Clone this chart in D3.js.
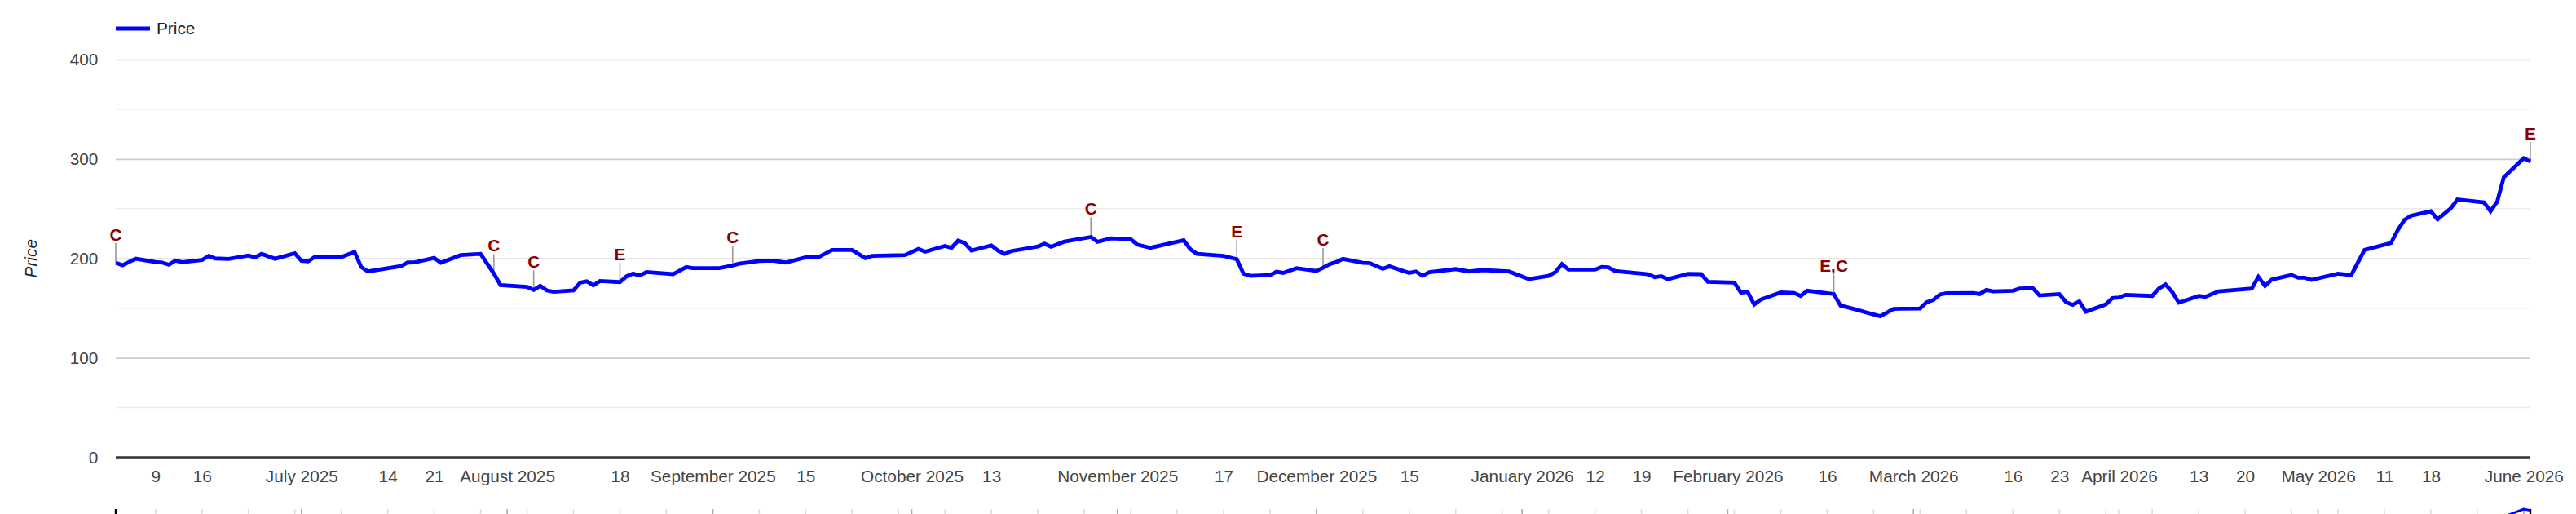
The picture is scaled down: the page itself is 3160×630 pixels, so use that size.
<!doctype html>
<html lang="en">
<head>
  <meta charset="utf-8">
  <title>Price</title>
  <script src="https://cdnjs.cloudflare.com/ajax/libs/d3/7.8.5/d3.min.js"></script>
  <style>
    body { margin: 0; background: #fff; }
    svg text { font-family: Arial, "Liberation Sans", sans-serif; }
  </style>
</head>
<body>
<div id="chart"></div>
<script>

// price series (trading days where the line bends)
var dates = [
  "2025-06-03","2025-06-04","2025-06-06","2025-06-09","2025-06-10","2025-06-11","2025-06-12","2025-06-13",
  "2025-06-16","2025-06-17","2025-06-18","2025-06-20","2025-06-23","2025-06-24","2025-06-25","2025-06-27",
  "2025-06-30","2025-07-01","2025-07-02","2025-07-03","2025-07-07","2025-07-09","2025-07-10","2025-07-11",
  "2025-07-16","2025-07-17","2025-07-18","2025-07-21","2025-07-22","2025-07-25","2025-07-28","2025-07-30",
  "2025-07-31","2025-08-04","2025-08-05","2025-08-06","2025-08-07","2025-08-08","2025-08-11","2025-08-12",
  "2025-08-13","2025-08-14","2025-08-15","2025-08-18","2025-08-19","2025-08-20","2025-08-21","2025-08-22",
  "2025-08-26","2025-08-28","2025-08-29","2025-09-02","2025-09-04","2025-09-05","2025-09-08","2025-09-10",
  "2025-09-12","2025-09-15","2025-09-17","2025-09-19","2025-09-22","2025-09-24","2025-09-25","2025-09-30",
  "2025-10-02","2025-10-03","2025-10-06","2025-10-07","2025-10-08","2025-10-09","2025-10-10","2025-10-13",
  "2025-10-14","2025-10-15","2025-10-16","2025-10-20","2025-10-21","2025-10-22","2025-10-24","2025-10-28",
  "2025-10-29","2025-10-31","2025-11-03","2025-11-04","2025-11-06","2025-11-11","2025-11-12","2025-11-13",
  "2025-11-17","2025-11-19","2025-11-20","2025-11-21","2025-11-24","2025-11-25","2025-11-26","2025-11-28",
  "2025-12-01","2025-12-02","2025-12-03","2025-12-04","2025-12-05","2025-12-08","2025-12-09","2025-12-11",
  "2025-12-12","2025-12-15","2025-12-16","2025-12-17","2025-12-18","2025-12-22","2025-12-24","2025-12-26",
  "2025-12-30","2026-01-02","2026-01-05","2026-01-06","2026-01-07","2026-01-08","2026-01-12","2026-01-13",
  "2026-01-14","2026-01-15","2026-01-20","2026-01-21","2026-01-22","2026-01-23","2026-01-26","2026-01-28",
  "2026-01-29","2026-02-02","2026-02-03","2026-02-04","2026-02-05","2026-02-06","2026-02-09","2026-02-11",
  "2026-02-12","2026-02-13","2026-02-17","2026-02-18","2026-02-20","2026-02-24","2026-02-26","2026-02-27",
  "2026-03-02","2026-03-03","2026-03-04","2026-03-05","2026-03-06","2026-03-10","2026-03-11","2026-03-12",
  "2026-03-13","2026-03-16","2026-03-17","2026-03-19","2026-03-20","2026-03-23","2026-03-24","2026-03-25",
  "2026-03-26","2026-03-27","2026-03-30","2026-03-31","2026-04-01","2026-04-02","2026-04-06","2026-04-07",
  "2026-04-08","2026-04-09","2026-04-10","2026-04-13","2026-04-14","2026-04-16","2026-04-21","2026-04-22",
  "2026-04-23","2026-04-24","2026-04-27","2026-04-28","2026-04-29","2026-04-30","2026-05-04","2026-05-06",
  "2026-05-08","2026-05-12","2026-05-13","2026-05-14","2026-05-15","2026-05-18","2026-05-19","2026-05-21",
  "2026-05-22","2026-05-26","2026-05-27","2026-05-28","2026-05-29","2026-06-01","2026-06-02"
];
var prices = [
  195.6,193.2,199.7,196.4,195.9,193.7,197.8,196.2,
  198.4,202.5,200.0,199.5,203.0,201.1,204.6,199.7,
  205.2,197.5,197.0,201.6,201.4,206.6,191.5,186.9,
  192.3,195.9,196.0,200.5,195.6,203.3,204.6,184.7,
  173.2,171.3,168.3,172.4,167.8,166.4,167.8,175.7,
  177.0,172.9,177.3,176.2,182.0,184.7,182.8,186.3,
  184.2,191.3,190.2,190.2,192.9,194.8,197.5,197.8,
  195.9,201.1,201.6,208.5,208.5,200.3,202.5,203.3,
  209.6,206.8,212.6,210.7,218.0,215.3,207.9,213.1,
  207.9,204.6,207.4,212.0,214.8,211.7,216.9,221.6,
  216.7,220.2,219.4,213.9,210.7,218.3,209.3,204.6,
  202.5,199.2,184.7,182.5,183.3,186.6,185.5,190.2,
  187.4,190.7,194.3,196.4,199.5,195.6,195.4,189.6,
  192.1,185.5,186.9,182.5,186.1,189.3,186.9,188.3,
  186.9,179.2,182.5,186.1,194.3,188.8,188.8,191.5,
  191.0,187.4,184.2,181.1,182.2,179.2,184.4,184.2,
  176.5,175.7,165.6,166.4,153.8,158.7,165.8,165.3,
  162.3,167.5,164.2,152.7,149.2,141.8,149.2,149.5,
  149.7,156.0,158.2,163.7,165.0,165.3,164.2,168.3,
  166.9,167.5,169.7,170.2,162.8,164.2,156.0,153.3,
  156.8,146.4,153.8,160.1,160.7,163.4,162.3,169.7,
  173.8,166.4,155.5,162.3,161.5,166.9,169.7,181.4,
  172.4,178.7,183.3,180.6,180.6,178.4,184.7,183.3,
  208.5,215.6,228.4,238.5,242.9,247.5,239.3,250.3,
  259.3,256.3,247.5,257.1,281.7,300.8,297.5
];

// annotations
var noteDates = ["2025-06-03","2025-07-30","2025-08-05","2025-08-18","2025-09-04",
                 "2025-10-28","2025-11-19","2025-12-02","2026-02-17","2026-06-02"];
var noteText  = ["C","C","C","E","C","C","E","C","E,C","E"];

// axis ticks
var yTicks = [0, 100, 200, 300, 400];
var yMinor = [50, 150, 250, 350];
var xTickDates = ["2025-06-09","2025-06-16","2025-07-01","2025-07-14","2025-07-21","2025-08-01",
                  "2025-08-18","2025-09-01","2025-09-15","2025-10-01","2025-10-13","2025-11-01",
                  "2025-11-17","2025-12-01","2025-12-15","2026-01-01","2026-01-12","2026-01-19",
                  "2026-02-01","2026-02-16","2026-03-01","2026-03-16","2026-03-23","2026-04-01",
                  "2026-04-13","2026-04-20","2026-05-01","2026-05-11","2026-05-18","2026-06-01"];
var xTickLabels = ["9","16","July 2025","14","21","August 2025","18","September 2025","15",
                   "October 2025","13","November 2025","17","December 2025","15","January 2026",
                   "12","19","February 2026","16","March 2026","16","23","April 2026","13","20",
                   "May 2026","11","18","June 2026"];

var parseDate = d3.timeParse("%Y-%m-%d");
var data = dates.map(function(d, i) { return {date: parseDate(d), price: prices[i]}; });

var W = 3160, H = 630;
var margin = {top: 73, right: 56, bottom: 69.5, left: 142},
    width = W - margin.left - margin.right,
    height = H - margin.top - margin.bottom;
var FS = 20.8;

var svg = d3.select("#chart")
  .append("svg")
    .attr("width", W)
    .attr("height", H);

var g = svg.append("g")
    .attr("transform", "translate(" + margin.left + "," + margin.top + ")");

var x = d3.scaleTime()
  .domain([parseDate("2025-06-03"), parseDate("2026-06-02")])
  .range([0, width]);

var y = d3.scaleLinear()
  .domain([0, 400])
  .range([height, 0]);

// minor grid
g.append("g")
  .selectAll("line")
  .data(yMinor)
  .enter().append("line")
    .attr("x1", 0).attr("x2", width)
    .attr("y1", function(d) { return y(d); })
    .attr("y2", function(d) { return y(d); })
    .attr("stroke", "#ebebeb")
    .attr("stroke-width", 1.6);

// major grid + labels
var yAxis = g.append("g")
  .call(d3.axisLeft(y).tickValues(yTicks).tickSize(-width).tickPadding(21.6));
yAxis.select(".domain").remove();
yAxis.selectAll(".tick line").attr("stroke", "#cccccc").attr("stroke-width", 1.6);
yAxis.selectAll(".tick text")
  .attr("fill", "#444")
  .style("font-size", FS + "px");

// baseline
g.append("line")
  .attr("x1", 0).attr("x2", width)
  .attr("y1", y(0)).attr("y2", y(0))
  .attr("stroke", "#333")
  .attr("stroke-width", 2.4);

// x axis
var xAxis = g.append("g")
  .attr("transform", "translate(0," + height + ")")
  .call(d3.axisBottom(x)
    .tickValues(xTickDates.map(parseDate))
    .tickFormat(function(d, i) { return xTickLabels[i]; })
    .tickSize(0)
    .tickPadding(15.7));
xAxis.select(".domain").remove();
xAxis.selectAll(".tick text")
  .attr("fill", "#444")
  .style("font-size", FS + "px");

// y axis title
svg.append("text")
  .attr("transform", "translate(38," + (margin.top + y(200)) + ") rotate(-90)")
  .attr("text-anchor", "middle")
  .attr("dy", "0.35em")
  .attr("fill", "#222")
  .style("font-size", FS + "px")
  .style("font-style", "italic")
  .text("Price");

// annotation stems (under the line)
var notes = noteDates.map(function(d, i) {
  var dt = parseDate(d);
  var p = data.find(function(e) { return +e.date === +dt; });
  return {date: dt, price: p.price, text: noteText[i]};
});

g.selectAll(".stem")
  .data(notes)
  .enter().append("line")
    .attr("class", "stem")
    .attr("x1", function(d) { return x(d.date); })
    .attr("x2", function(d) { return x(d.date); })
    .attr("y1", function(d) { return y(d.price); })
    .attr("y2", function(d) { return y(d.price) - 24; })
    .attr("stroke", "#999")
    .attr("stroke-width", 1.6);

// price line
var line = d3.line()
  .x(function(d) { return x(d.date); })
  .y(function(d) { return y(d.price); });

g.append("path")
  .datum(data)
  .attr("fill", "none")
  .attr("stroke", "#0000ff")
  .attr("stroke-width", 4.8)
  .attr("stroke-linejoin", "miter")
  .attr("d", line);

g.selectAll(".note")
  .data(notes)
  .enter().append("text")
    .attr("class", "note")
    .attr("x", function(d) { return x(d.date); })
    .attr("y", function(d) { return y(d.price) - 27; })
    .attr("text-anchor", "middle")
    .attr("fill", "#8b0000")
    .style("font-size", FS + "px")
    .style("font-weight", "bold")
    .text(function(d) { return d.text; });

// legend
svg.append("line")
  .attr("x1", 142).attr("x2", 184)
  .attr("y1", 35).attr("y2", 35)
  .attr("stroke", "#0000ff")
  .attr("stroke-width", 5);
svg.append("text")
  .attr("x", 192).attr("y", 35)
  .attr("dy", "0.35em")
  .attr("fill", "#222")
  .style("font-size", FS + "px")
  .text("Price");

// range selector strip (mostly below the window)
var sel = svg.append("g").attr("transform", "translate(" + margin.left + ",622)");
var ys = d3.scaleLinear()
  .domain(d3.extent(prices))
  .range([80, 2]);

sel.selectAll(".wk")
  .data(x.ticks(d3.timeMonday.every(1)))
  .enter().append("line")
    .attr("x1", function(d) { return x(d); })
    .attr("x2", function(d) { return x(d); })
    .attr("y1", 2).attr("y2", 12)
    .attr("stroke", "#ddd")
    .attr("stroke-width", 1.6);
sel.selectAll(".mo")
  .data(x.ticks(d3.timeMonth.every(1)))
  .enter().append("line")
    .attr("x1", function(d) { return x(d); })
    .attr("x2", function(d) { return x(d); })
    .attr("y1", 2).attr("y2", 12)
    .attr("stroke", "#aaa")
    .attr("stroke-width", 1.6);
sel.selectAll(".end")
  .data(x.domain())
  .enter().append("line")
    .attr("x1", function(d) { return x(d); })
    .attr("x2", function(d) { return x(d); })
    .attr("y1", 2).attr("y2", 12)
    .attr("stroke", "#000")
    .attr("stroke-width", 2.4);
sel.append("path")
  .datum(data)
  .attr("fill", "none")
  .attr("stroke", "#0000ff")
  .attr("stroke-width", 3)
  .attr("d", d3.line()
    .x(function(d) { return x(d.date); })
    .y(function(d) { return ys(d.price); }));

</script>
</body>
</html>
